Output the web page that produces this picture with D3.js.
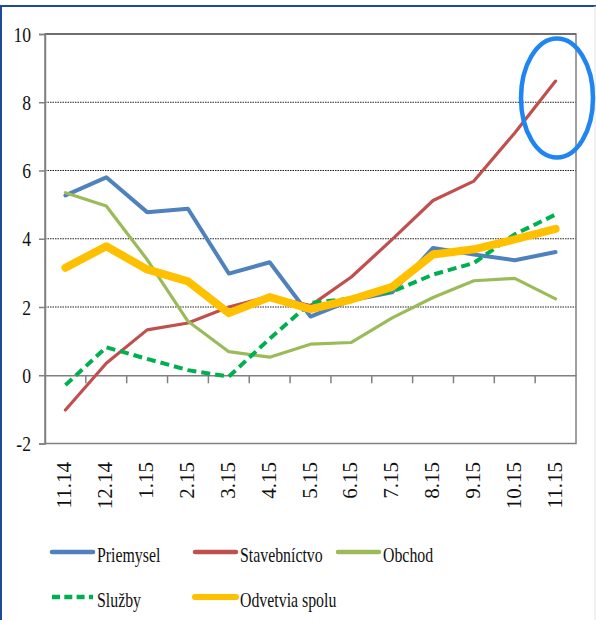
<!DOCTYPE html>
<html>
<head>
<meta charset="utf-8">
<script src="https://cdn.jsdelivr.net/npm/d3@7/dist/d3.min.js"></script>
<style>
  html, body { margin: 0; padding: 0; background: #fff; }
  svg { display: block; }
</style>
</head>
<body>
<svg id="chart" width="596" height="620"></svg>
<script>
// Months (m.yy)
const categories = ["11.14", "12.14", "1.15", "2.15", "3.15", "4.15", "5.15",
                    "6.15", "7.15", "8.15", "9.15", "10.15", "11.15"];

const priemysel    = [5.27, 5.80, 4.78, 4.88, 2.98, 3.31, 1.72, 2.20, 2.43, 3.73, 3.54, 3.37, 3.61];
const stavebnictvo = [-1.02, 0.35, 1.33, 1.53, 2.00, 2.31, 2.04, 2.88, 3.98, 5.12, 5.69, 7.10, 8.62];
const obchod       = [5.35, 4.96, 3.39, 1.58, 0.69, 0.53, 0.91, 0.96, 1.68, 2.28, 2.77, 2.84, 2.24];
const sluzby       = [-0.29, 0.82, 0.48, 0.15, -0.04, 1.07, 2.12, 2.25, 2.45, 2.95, 3.29, 4.13, 4.71];
const spolu        = [3.15, 3.78, 3.10, 2.75, 1.82, 2.29, 1.94, 2.22, 2.59, 3.54, 3.69, 3.98, 4.29];

const yTicks = [-2, 0, 2, 4, 6, 8, 10];

const series = [
  { name: "Priemysel",      values: priemysel,    color: "#4F81BD", width: 4,   dash: null },
  { name: "Stavebníctvo",   values: stavebnictvo, color: "#C0504D", width: 3.2, dash: null },
  { name: "Obchod",         values: obchod,       color: "#9BBB59", width: 3.2, dash: null },
  { name: "Služby",         values: sluzby,       color: "#00B050", width: 4,   dash: "9,5" },
  { name: "Odvetvia spolu", values: spolu,        color: "#FFC000", width: 8,   dash: null }
];

const svg = d3.select("#chart");
const plotL = 45, plotR = 576, plotT = 34, plotB = 443.5;

const x = d3.scaleBand().domain(categories).range([plotL, plotR]);
const y = d3.scaleLinear().domain([-2, 10]).range([plotB, plotT]);
const cx = c => x(c) + x.bandwidth() / 2;

// serif label, optionally condensed horizontally via textLength
function label(tx, ty, str, anchor, condense, size) {
  const t = svg.append("text")
    .attr("x", tx).attr("y", ty)
    .attr("text-anchor", anchor)
    .attr("fill", "#111")
    .attr("font-family", "Liberation Serif")
    .style("font-family", '"Liberation Serif"')
    .attr("font-size", size || 22)
    .text(str);
  if (condense) {
    const w = t.node().getComputedTextLength();
    t.attr("textLength", w * condense).attr("lengthAdjust", "spacingAndGlyphs");
  }
  return t;
}

// outer frame
svg.append("line").attr("x1", 0).attr("x2", 596).attr("y1", 6).attr("y2", 6)
  .attr("stroke", "#1c4a9c").attr("stroke-width", 2);
svg.append("line").attr("x1", 1).attr("x2", 1).attr("y1", 6).attr("y2", 620)
  .attr("stroke", "#1c4a9c").attr("stroke-width", 2);
svg.append("line").attr("x1", 595).attr("x2", 595).attr("y1", 6).attr("y2", 620)
  .attr("stroke", "#e4e4e4").attr("stroke-width", 1);

// dotted gridlines
svg.append("g").selectAll("line")
  .data(yTicks.filter(t => t > 0 && t < 10))
  .join("line")
  .attr("x1", plotL).attr("x2", plotR)
  .attr("y1", d => y(d)).attr("y2", d => y(d))
  .attr("stroke", "#222").attr("stroke-width", 1)
  .attr("stroke-dasharray", "1.5,1");

// plot border
svg.append("rect")
  .attr("x", plotL).attr("y", plotT)
  .attr("width", plotR - plotL).attr("height", plotB - plotT)
  .attr("fill", "none").attr("stroke", "#808080").attr("stroke-width", 1.5);
svg.append("line").attr("x1", plotL).attr("x2", plotR).attr("y1", plotT).attr("y2", plotT)
  .attr("stroke", "#6e6e6e").attr("stroke-width", 2);

// y axis
const yAxis = d3.axisLeft(y).tickValues(yTicks).tickSize(6).tickFormat("");
const yg = svg.append("g").attr("transform", `translate(${plotL},0)`).call(yAxis);
yg.select(".domain").attr("stroke", "#808080").attr("stroke-width", 1.5);
yg.selectAll(".tick line").attr("stroke", "#808080").attr("stroke-width", 1.5);

// y tick labels
yTicks.forEach(t => {
  label(31, y(t) + 7.5, String(t), "end", 0.8);
});

// zero line with category ticks
const zeroY = y(0);
const xAxis = d3.axisBottom(x).tickSize(0).tickFormat("");
const xg = svg.append("g").attr("transform", `translate(0,${zeroY})`).call(xAxis);
xg.select(".domain").attr("stroke", "#808080").attr("stroke-width", 1.5);
xg.selectAll(".tick").remove();
xg.selectAll(".bound")
  .data(categories.slice(1))
  .join("line")
  .attr("class", "bound")
  .attr("x1", d => x(d)).attr("x2", d => x(d))
  .attr("y1", 0).attr("y2", 8)
  .attr("stroke", "#808080").attr("stroke-width", 1.5);

// rotated category labels
categories.forEach(c => {
  label(0, 0, c, "end", null, 21)
    .attr("transform", `translate(${cx(c) + 6},462) rotate(-90)`);
});

// series lines
const line = d3.line()
  .x((d, i) => cx(categories[i]))
  .y(d => y(d));

series.forEach(s => {
  svg.append("path")
    .datum(s.values)
    .attr("fill", "none")
    .attr("stroke", s.color)
    .attr("stroke-width", s.width)
    .attr("stroke-linejoin", "round")
    .attr("stroke-linecap", s.dash ? "butt" : "round")
    .attr("stroke-dasharray", s.dash)
    .attr("d", line);
});

// legend
const legendItems = [
  { s: series[0], lx: 52,  ly: 552 },
  { s: series[1], lx: 195, ly: 552 },
  { s: series[2], lx: 338, ly: 552 },
  { s: series[3], lx: 52,  ly: 597 },
  { s: series[4], lx: 195, ly: 597 }
];
legendItems.forEach(({ s, lx, ly }) => {
  svg.append("line")
    .attr("x1", lx).attr("x2", lx + 41)
    .attr("y1", ly).attr("y2", ly)
    .attr("stroke", s.color)
    .attr("stroke-width", s.name === "Odvetvia spolu" ? 6 : 4.5)
    .attr("stroke-linecap", s.dash ? "butt" : "round")
    .attr("stroke-dasharray", s.dash ? "8,4.3" : null);
  label(lx + 45, ly + 9.5, s.name, "start", 0.72);
});

// highlight ring
svg.append("ellipse")
  .attr("cx", 557).attr("cy", 98)
  .attr("rx", 36).attr("ry", 59.5)
  .attr("fill", "none")
  .attr("stroke", "#1e85f2")
  .attr("stroke-width", 4.5);
</script>
</body>
</html>
